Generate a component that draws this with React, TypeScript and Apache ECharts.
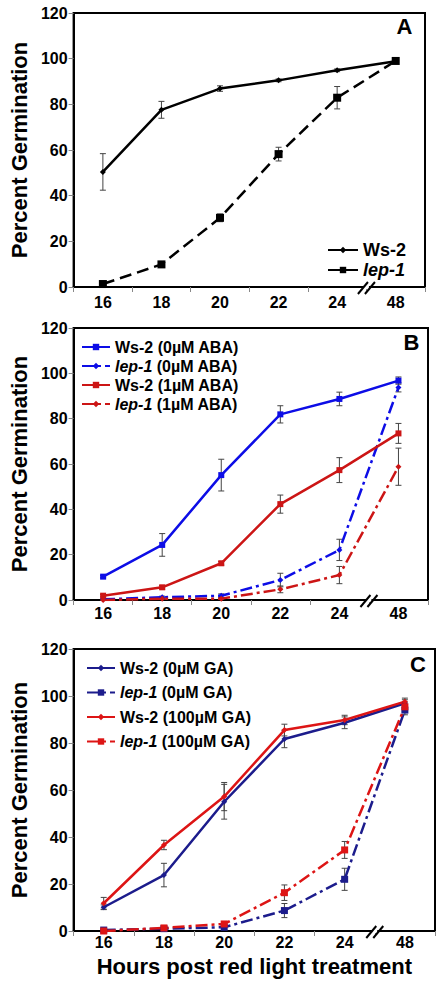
import React, { useEffect, useRef } from "react";
import * as echarts from "echarts";

const hours = ["16", "18", "20", "22", "24", "48"];

// Panel A
const aWs2 = [50.4, 77.6, 86.9, 90.5, 94.9, 98.9];
const aWs2Err = [8, 3.7, 1.2, 0.6, 0.6, 0.5];
const aLep1 = [1.3, 9.9, 30.3, 58.2, 82.9, 99.0];
const aLep1Err = [0, 0.6, 1.7, 3.0, 4.9, 0.6];

// Panel B
const bWs2Aba0 = [10.3, 24.3, 55.1, 81.9, 88.7, 96.8];
const bWs2Aba0Err = [0.5, 5, 7, 3.8, 3, 1.6];
const bLep1Aba0 = [0.3, 1.2, 1.9, 8.8, 22.1, 93.8];
const bLep1Aba0Err = [0.3, 0.5, 0.8, 3, 4.7, 2];
const bWs2Aba1 = [1.9, 5.6, 16.2, 42.3, 57.3, 73.5];
const bWs2Aba1Err = [0.5, 0.8, 0.8, 4, 5.5, 4.4];
const bLep1Aba1 = [0, 0.6, 0.6, 4.7, 11, 58.8];
const bLep1Aba1Err = [0, 0.3, 0.3, 1.5, 3.8, 8.2];

// Panel C
const cWs2Ga0 = [10.1, 23.8, 55.0, 81.7, 88.6, 96.9];
const cWs2Ga0Err = [1, 5, 7.4, 3.7, 2.5, 1.5];
const cLep1Ga0 = [0.4, 1.0, 1.6, 8.7, 22.0, 94.0];
const cLep1Ga0Err = [0.3, 0.4, 0.8, 3, 4.7, 2];
const cWs2Ga100 = [11.8, 36.6, 57.2, 85.5, 89.8, 97.6];
const cWs2Ga100Err = [2.5, 2, 6, 2.5, 2, 1.5];
const cLep1Ga100 = [0, 1.3, 3.0, 16.3, 34.5, 95.4];
const cLep1Ga100Err = [0, 0.4, 1, 3.3, 3.6, 2];

const F = "'Liberation Sans', Arial, sans-serif";
const BLUE = "#0d0de6";
const RED_B = "#cc1515";
const NAVY = "#1c1c8c";
const RED_C = "#dd1515";
const DASHDOT = [12, 4, 3, 4];

function errSeries(g: number, values: number[], errs: number[]) {
  return {
    type: "custom",
    xAxisIndex: g,
    yAxisIndex: g,
    silent: true,
    z: 1,
    encode: { x: 0, y: [1, 2] },
    data: values.map((v, i) => [i, Math.max(0, v - errs[i]), v + errs[i]]),
    renderItem: (params: any, api: any) => {
      const lo = api.coord([api.value(0), api.value(1)]);
      const hi = api.coord([api.value(0), api.value(2)]);
      const w = 3;
      const st = { stroke: "#444", lineWidth: 1 };
      return {
        type: "group",
        children: [
          { type: "line", shape: { x1: lo[0], y1: lo[1], x2: hi[0], y2: hi[1] }, style: st },
          { type: "line", shape: { x1: lo[0] - w, y1: lo[1], x2: lo[0] + w, y2: lo[1] }, style: st },
          { type: "line", shape: { x1: hi[0] - w, y1: hi[1], x2: hi[0] + w, y2: hi[1] }, style: st },
        ],
      };
    },
  };
}

function lineSeries(
  g: number,
  name: string,
  data: number[],
  color: string,
  symbol: string,
  size: number,
  type: any
) {
  return {
    type: "line",
    name,
    xAxisIndex: g,
    yAxisIndex: g,
    data,
    z: 3,
    symbol,
    symbolSize: size,
    showSymbol: true,
    itemStyle: { color },
    lineStyle: { color, width: 2.5, type },
  };
}

function xAxis(g: number, margin: number, withName: boolean) {
  return {
    type: "category",
    gridIndex: g,
    data: hours,
    boundaryGap: true,
    axisLine: { lineStyle: { color: "#000", width: 2 } },
    axisTick: { show: true, length: 5, lineStyle: { color: "#888", width: 1 } },
    axisLabel: { color: "#000", fontFamily: F, fontWeight: "bold", fontSize: 16, margin },
    splitLine: { show: false },
    name: withName ? "Hours post red light treatment" : "",
    nameLocation: "middle",
    nameGap: 24,
    nameTextStyle: { color: "#000", fontFamily: F, fontWeight: "bold", fontSize: 22 },
  };
}

function yAxis(g: number) {
  return {
    type: "value",
    gridIndex: g,
    min: 0,
    max: 120,
    interval: 20,
    axisLine: { show: true, lineStyle: { color: "#000", width: 2 } },
    axisTick: { show: true, length: 5, lineStyle: { color: "#888", width: 1 } },
    axisLabel: { color: "#000", fontFamily: F, fontWeight: "bold", fontSize: 16, margin: 6 },
    splitLine: { show: false },
    name: "Percent Germination",
    nameLocation: "middle",
    nameGap: 33,
    nameTextStyle: { color: "#000", fontFamily: F, fontWeight: "bold", fontSize: 22 },
  };
}

function legend(names: string[], left: number, top: number, size: number, gap: number, width: number) {
  return {
    orient: "vertical",
    left,
    top,
    itemWidth: width,
    itemHeight: 8,
    itemGap: gap,
    data: names,
    selectedMode: false,
    textStyle: {
      color: "#000",
      fontFamily: F,
      fontWeight: "bold",
      fontSize: size,
      rich: {
        i: { fontStyle: "italic", fontWeight: "bold", fontFamily: F, color: "#000", fontSize: size },
      },
    },
    formatter: (n: string) => {
      if (n.startsWith("lep-1")) return "{i|lep-1}" + n.slice(5);
      return n;
    },
  };
}

export default function App() {
  const ref = useRef<HTMLDivElement>(null);
  useEffect(() => {
    document.body.style.margin = "0";
    const chart = echarts.init(ref.current!, null, { renderer: "svg" });
    const option: any = {
      animation: false,
      backgroundColor: "#fff",
      grid: [
        { left: 60, top: 13, width: 365, height: 274, show: true, borderColor: "#000", borderWidth: 2 },
        { left: 61, top: 328, width: 367, height: 272, show: true, borderColor: "#000", borderWidth: 2 },
        { left: 58, top: 649, width: 377, height: 282, show: true, borderColor: "#000", borderWidth: 2 },
      ],
      xAxis: [xAxis(0, 7, false), xAxis(1, 5, false), xAxis(2, 3, true)],
      yAxis: [yAxis(0), yAxis(1), yAxis(2)],
      legend: [
        legend(["Ws-2", "lep-1"], 322, 236, 18, 2, 30),
        legend(
          ["Ws-2 (0µM ABA)", "lep-1 (0µM ABA)", "Ws-2 (1µM ABA)", "lep-1 (1µM ABA)"],
          76,
          334,
          16,
          3,
          28
        ),
        legend(
          ["Ws-2 (0µM GA)", "lep-1 (0µM GA)", "Ws-2 (100µM GA)", "lep-1 (100µM GA)"],
          81,
          655,
          16,
          8.5,
          28
        ),
      ],
      series: [
        errSeries(0, aWs2, aWs2Err),
        errSeries(0, aLep1, aLep1Err),
        lineSeries(0, "Ws-2", aWs2, "#000", "diamond", 6, "solid"),
        lineSeries(0, "lep-1", aLep1, "#000", "rect", 8, [12, 6]),

        errSeries(1, bWs2Aba0, bWs2Aba0Err),
        errSeries(1, bLep1Aba0, bLep1Aba0Err),
        errSeries(1, bWs2Aba1, bWs2Aba1Err),
        errSeries(1, bLep1Aba1, bLep1Aba1Err),
        lineSeries(1, "Ws-2 (0µM ABA)", bWs2Aba0, BLUE, "rect", 6, "solid"),
        lineSeries(1, "lep-1 (0µM ABA)", bLep1Aba0, BLUE, "diamond", 6, DASHDOT),
        lineSeries(1, "Ws-2 (1µM ABA)", bWs2Aba1, RED_B, "rect", 6, "solid"),
        lineSeries(1, "lep-1 (1µM ABA)", bLep1Aba1, RED_B, "diamond", 6, DASHDOT),

        errSeries(2, cWs2Ga0, cWs2Ga0Err),
        errSeries(2, cLep1Ga0, cLep1Ga0Err),
        errSeries(2, cWs2Ga100, cWs2Ga100Err),
        errSeries(2, cLep1Ga100, cLep1Ga100Err),
        lineSeries(2, "Ws-2 (0µM GA)", cWs2Ga0, NAVY, "diamond", 6, "solid"),
        lineSeries(2, "lep-1 (0µM GA)", cLep1Ga0, NAVY, "rect", 7, DASHDOT),
        lineSeries(2, "Ws-2 (100µM GA)", cWs2Ga100, RED_C, "diamond", 6, "solid"),
        lineSeries(2, "lep-1 (100µM GA)", cLep1Ga100, RED_C, "rect", 7, DASHDOT),
      ],
    };
    chart.setOption(option);

    const graphics: any[] = [];
    const letters = [
      { t: "A", x: 404.5, y: 26.5 },
      { t: "B", x: 411.5, y: 342.5 },
      { t: "C", x: 418, y: 664 },
    ];
    letters.forEach((l) =>
      graphics.push({
        type: "text",
        x: l.x,
        y: l.y,
        z: 10,
        style: {
          text: l.t,
          fill: "#000",
          font: `bold 22px ${F}`,
          align: "center",
          verticalAlign: "middle",
        },
      })
    );
    [0, 1, 2].forEach((g) => {
      const x4 = chart.convertToPixel({ xAxisIndex: g } as any, 4) as any;
      const x5 = chart.convertToPixel({ xAxisIndex: g } as any, 5) as any;
      const y0 = chart.convertToPixel({ yAxisIndex: g } as any, 0) as any;
      const xm = (x4 + x5) / 2;
      graphics.push({
        type: "rect",
        z: 10,
        shape: { x: xm - 2.5, y: y0 - 2, width: 5, height: 4 },
        style: { fill: "#fff" },
      });
      [-3.5, 3.5].forEach((o) =>
        graphics.push({
          type: "line",
          z: 11,
          shape: { x1: xm + o - 5, y1: y0 + 7, x2: xm + o + 5, y2: y0 - 5 },
          style: { stroke: "#000", lineWidth: 2 },
        })
      );
    });
    chart.setOption({ graphic: graphics });
    return () => chart.dispose();
  }, []);
  return <div ref={ref} style={{ width: 444, height: 984 }} />;
}
